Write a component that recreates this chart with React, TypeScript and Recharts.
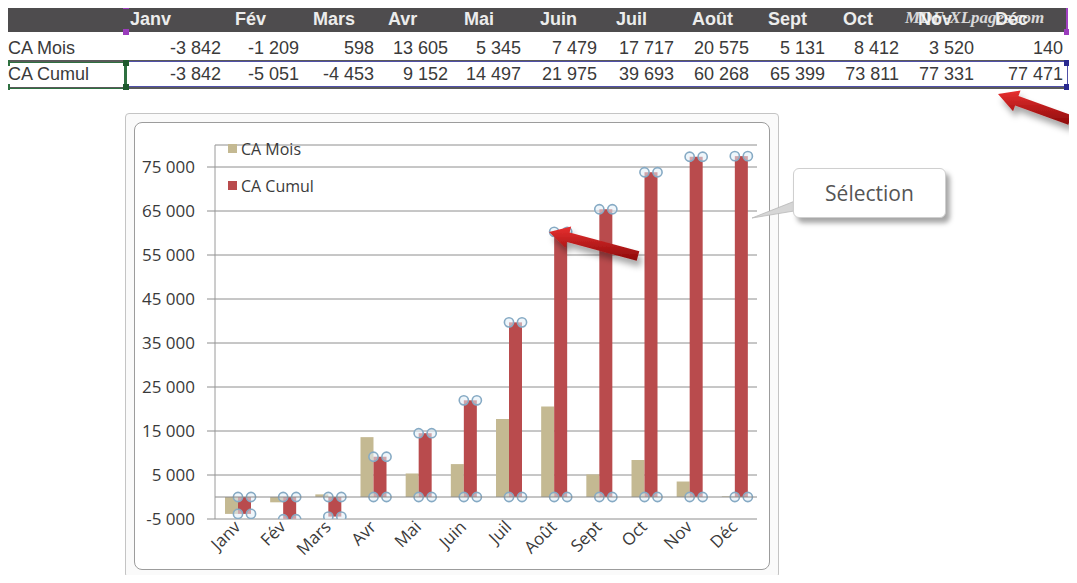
import React from 'react';
import { ComposedChart, Bar, XAxis, YAxis, CartesianGrid, Legend, ReferenceLine } from 'recharts';

const months = ['Janv', 'Fév', 'Mars', 'Avr', 'Mai', 'Juin', 'Juil', 'Août', 'Sept', 'Oct', 'Nov', 'Déc'];
const caMois = [-3842, -1209, 598, 13605, 5345, 7479, 17717, 20575, 5131, 8412, 3520, 140];
const caCumul = [-3842, -5051, -4453, 9152, 14497, 21975, 39693, 60268, 65399, 73811, 77331, 77471];
const yTicks = [-5000, 5000, 15000, 25000, 35000, 45000, 55000, 65000, 75000];

const data = months.map((m, i) => ({ mois: m, caMois: caMois[i], caCumul: caCumul[i] }));
const seriesOrder = ['caMois', 'caCumul'];

const TAN = '#c4b992';
const RED = '#b94b4d';
const CHART_FONT = '"Open Sans", sans-serif';
const SHEET_FONT = '"Liberation Sans", Arial, sans-serif';

// excel style: "75 000", "-5 000"
const fmt = (v: number) => {
  const s = Math.abs(v).toString().replace(/\B(?=(\d{3})+(?!\d))/g, ' ');
  return (v < 0 ? '-' : '') + s;
};

// column layout of the sheet
const colWidths = [100, 78, 75, 74, 73, 76, 77, 75, 76, 74, 75, 89];
const headPad = [5, 10, 10, 10, 12, 15, 15, 14, 15, 14, 15, 17];

const MonthTick = ({ x, y, payload }: any) => {
  const ax = x + 4;
  const ay = y + 9;
  return (
    <text x={ax} y={ay} transform={`rotate(-45, ${ax}, ${ay})`} textAnchor="end"
      fontSize={17} fill="#3a3a3a" fontFamily={CHART_FONT}>
      {payload.value}
    </text>
  );
};

// red bar with the selection handles at its corners
const SelectedBar = (props: any) => {
  const { x, y, width, height, fill } = props;
  const top = Math.min(y, y + height);
  const h = Math.abs(height);
  const corners = [[x, top], [x + width, top], [x, top + h], [x + width, top + h]];
  return (
    <g>
      <rect x={x} y={top} width={width} height={h} fill={fill} />
      {corners.map(([cx, cy], i) => (
        <circle key={i} cx={cx} cy={cy} r={4.6} fill="rgba(225,238,248,0.55)" stroke="#86aac4" strokeWidth={1.6} />
      ))}
    </g>
  );
};

const renderLegend = (props: any) => {
  const items = [...(props.payload || [])].sort(
    (a: any, b: any) => seriesOrder.indexOf(a.dataKey) - seriesOrder.indexOf(b.dataKey)
  );
  return (
    <div style={{ fontFamily: CHART_FONT, fontSize: 16, color: '#3a3a3a' }}>
      {items.map((p: any) => (
        <div key={p.value} style={{ display: 'flex', alignItems: 'center', height: 37 }}>
          <span style={{ width: 9, height: 9, background: p.color, marginRight: 4, display: 'inline-block' }} />
          {p.value}
        </div>
      ))}
    </div>
  );
};

const arrowPoints = (tx: number, ty: number, fx: number, fy: number, body: number, head: number, headLen: number) => {
  const len = Math.hypot(fx - tx, fy - ty);
  const ux = (fx - tx) / len, uy = (fy - ty) / len;
  const nx = -uy, ny = ux;
  const hx = tx + ux * headLen, hy = ty + uy * headLen;
  const pts = [
    [tx, ty],
    [hx + nx * head / 2, hy + ny * head / 2],
    [hx + nx * body / 2, hy + ny * body / 2],
    [fx + nx * body / 2, fy + ny * body / 2],
    [fx - nx * body / 2, fy - ny * body / 2],
    [hx - nx * body / 2, hy - ny * body / 2],
    [hx - nx * head / 2, hy - ny * head / 2],
  ];
  return pts.map((p) => p.join(',')).join(' ');
};

const Handle = ({ x, y, color }: { x: number; y: number; color: string }) => (
  <div style={{ position: 'absolute', left: x - 3, top: y - 3, width: 6, height: 6, background: color }} />
);

const Sheet = () => {
  let acc = 125;
  const starts = colWidths.map((w) => { const s = acc; acc += w; return s; });
  const rowText: React.CSSProperties = { position: 'absolute', fontFamily: SHEET_FONT, fontSize: 18, color: '#3a3a3a', lineHeight: '24px' };
  return (
    <>
      {/* header */}
      <div style={{ position: 'absolute', left: 5, top: 6, width: 1063, height: 26, background: '#4e4c4e' }} />
      <div style={{ position: 'absolute', left: 125, top: 5, width: 943, height: 2, background: '#a040c0' }} />
      <div style={{ position: 'absolute', left: 1066, top: 5, width: 2, height: 27, background: '#a040c0' }} />
      <Handle x={126} y={6} color="#9a3cbc" />
      <Handle x={126} y={32} color="#9a3cbc" />
      <Handle x={1067} y={32} color="#9a3cbc" />
      {months.map((m, i) => (
        <div key={m} style={{ ...rowText, top: 7, left: starts[i] + headPad[i], fontWeight: 700, color: '#ececec' }}>{m}</div>
      ))}
      <div style={{ position: 'absolute', left: 905, top: 8, fontFamily: '"Liberation Serif", serif', fontStyle: 'italic', fontWeight: 700, fontSize: 17, color: 'rgba(255,255,255,0.8)' }}>MDF-XLpages.com</div>

      {/* CA Mois */}
      <div style={{ ...rowText, left: 8, top: 36 }}>CA Mois</div>
      {caMois.map((v, i) => (
        <div key={i} style={{ ...rowText, top: 36, left: starts[i], width: colWidths[i] - 4, textAlign: 'right' }}>{fmt(v)}</div>
      ))}
      <div style={{ position: 'absolute', left: 5, top: 60, width: 1063, height: 2, background: '#5a5a5a' }} />

      {/* CA Cumul */}
      <div style={{ ...rowText, left: 8, top: 62 }}>CA Cumul</div>
      {caCumul.map((v, i) => (
        <div key={i} style={{ ...rowText, top: 62, left: starts[i], width: colWidths[i] - 4, textAlign: 'right' }}>{fmt(v)}</div>
      ))}
      <div style={{ position: 'absolute', left: 5, top: 87, width: 1063, height: 2, background: '#5a5a5a' }} />
      <div style={{ position: 'absolute', left: 5, top: 62, width: 120, height: 25, border: '1px solid #2e7040' }} />
      <div style={{ position: 'absolute', left: 125, top: 61, width: 1063 - 120, height: 26, border: '1px solid #5050a8', boxSizing: 'border-box' }} />
      <div style={{ position: 'absolute', left: 124, top: 64, width: 2, height: 22, background: '#2e7040' }} />
      <Handle x={7} y={63} color="#2e7040" />
      <Handle x={7} y={87} color="#2e7040" />
      <Handle x={126} y={63} color="#1f5a2e" />
      <Handle x={126} y={87} color="#1f5a2e" />
      <Handle x={1067} y={63} color="#2a2a90" />
      <Handle x={1067} y={87} color="#2a2a90" />
    </>
  );
};

export default function App() {
  return (
    <div style={{ position: 'relative', width: 1077, height: 583, margin: -8, background: '#fff', overflow: 'hidden' }}>
      <Sheet />

      {/* chart frame */}
      <div style={{ position: 'absolute', left: 125, top: 113, width: 654, height: 465, border: '1px solid #c4c4c4', borderRadius: 4, background: '#fafafa', boxSizing: 'border-box' }} />
      <div style={{ position: 'absolute', left: 134, top: 122, width: 636, height: 448, border: '1px solid #9c9c9c', borderRadius: 8, background: '#fff', boxSizing: 'border-box' }} />

      <div style={{ position: 'absolute', left: 122, top: 113 }}>
        <ComposedChart width={660} height={466} data={data} barGap={0}
          margin={{ top: 32, right: 25, bottom: 10, left: 15 }}>
          <CartesianGrid horizontal vertical={false} stroke="#8e8e8e" />
          <XAxis dataKey="mois" interval={0} axisLine={false} tickLine={false} tickSize={0} tickMargin={0}
            height={50} tick={<MonthTick />} />
          <YAxis type="number" domain={[-5000, 80000]} ticks={yTicks} allowDataOverflow width={78}
            tickFormatter={fmt} axisLine={{ stroke: '#9a9a9a' }} tickLine={{ stroke: '#8e8e8e' }} tickSize={8} tickMargin={12}
            tick={{ fill: '#3a3a3a', fontSize: 17, fontFamily: CHART_FONT }} />
          <ReferenceLine y={0} stroke="#8a8a8a" />
          <Legend layout="vertical" align="center" verticalAlign="middle" content={renderLegend}
            wrapperStyle={{ top: 17, left: 106, width: 'auto', height: 'auto' }} />
          <Bar dataKey="caMois" name="CA Mois" fill={TAN} barSize={13} isAnimationActive={false} />
          <Bar dataKey="caCumul" name="CA Cumul" fill={RED} barSize={13} shape={<SelectedBar />} isAnimationActive={false} />
        </ComposedChart>
      </div>

      {/* callout + arrows */}
      <svg style={{ position: 'absolute', left: 0, top: 0, pointerEvents: 'none' }} width={1077} height={583}>
        <defs>
          <linearGradient id="arrowRed" x1="0" y1="0" x2="0" y2="1">
            <stop offset="0" stopColor="#e83030" />
            <stop offset="1" stopColor="#8c0a0a" />
          </linearGradient>
          <filter id="sh" x="-20%" y="-20%" width="160%" height="180%">
            <feDropShadow dx="3" dy="6" stdDeviation="3" floodColor="#000" floodOpacity="0.35" />
          </filter>
        </defs>
        <polygon points="800,199 800,210 752,218" fill="#d6d6d6" stroke="#b8b8b8" strokeWidth={0.8} />
        <polygon points={arrowPoints(549, 232, 638, 256, 10, 22, 20)} fill="url(#arrowRed)" filter="url(#sh)" />
        <polygon points={arrowPoints(998, 94, 1070, 120, 10, 22, 20)} fill="url(#arrowRed)" filter="url(#sh)" />
      </svg>
      <div style={{ position: 'absolute', left: 793, top: 168, width: 153, height: 50, background: '#fff', border: '1px solid #cfcfcf', borderRadius: 6, boxShadow: '4px 5px 5px rgba(0,0,0,0.35)', boxSizing: 'border-box', display: 'flex', alignItems: 'center', justifyContent: 'center', fontFamily: CHART_FONT, fontSize: 21, color: '#555' }}>
        Sélection
      </div>
    </div>
  );
}
